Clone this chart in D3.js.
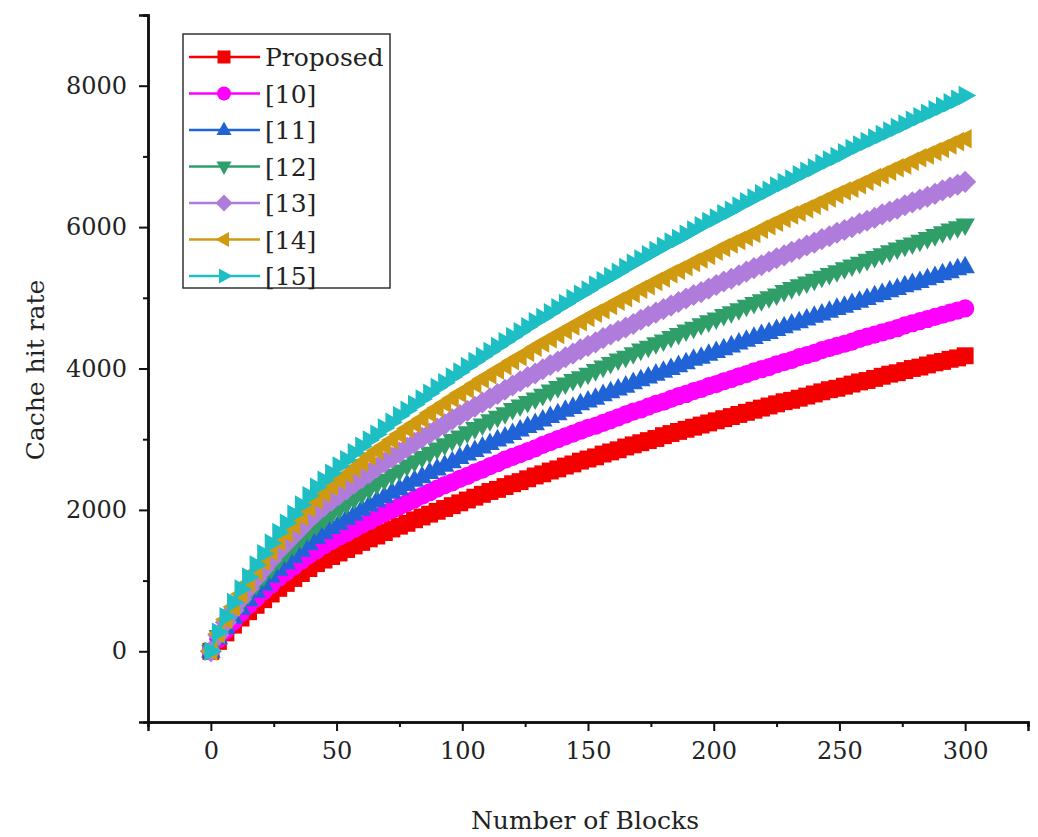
<!DOCTYPE html>
<html>
<head>
<meta charset="utf-8">
<script src="https://cdn.jsdelivr.net/npm/d3@7"></script>
<style>
  body { margin: 0; background: #fff; }
  text { font-family: "DejaVu Serif", serif; fill: #222; }
</style>
</head>
<body>
<script>
// x values (number of blocks), one marker every 3 blocks
var blocks = [0,3,6,9,12,15,18,21,24,27,30,33,36,39,42,45,48,51,54,57,60,63,66,69,72,75,78,81,84,87,90,93,96,99,
  102,105,108,111,114,117,120,123,126,129,132,135,138,141,144,147,150,153,156,159,162,165,168,171,174,177,180,
  183,186,189,192,195,198,201,204,207,210,213,216,219,222,225,228,231,234,237,240,243,246,249,252,255,258,261,
  264,267,270,273,276,279,282,285,288,291,294,297,300];

var proposed = [0,140,260,370,470,560,650,730,810,890,
  960,1030,1100,1170,1240,1290,1340,1390,1440,1490,
  1540,1590,1630,1680,1730,1770,1810,1860,1900,1940,
  1980,2020,2060,2100,2140,2180,2220,2260,2290,2330,
  2370,2400,2440,2480,2510,2550,2580,2620,2650,2690,
  2720,2750,2790,2820,2850,2890,2920,2950,2980,3010,
  3050,3080,3110,3140,3170,3200,3230,3260,3290,3320,
  3350,3380,3410,3440,3470,3500,3530,3550,3580,3610,
  3640,3670,3700,3720,3750,3780,3810,3830,3860,3890,
  3920,3940,3970,4000,4020,4050,4080,4100,4130,4150,4180];

var ref10 = [0,170,300,420,540,650,750,850,940,1040,
  1120,1200,1280,1360,1430,1500,1560,1620,1670,1730,
  1790,1840,1900,1950,2000,2050,2100,2150,2200,2250,
  2300,2350,2390,2440,2480,2530,2570,2620,2660,2710,
  2750,2790,2830,2870,2920,2960,3000,3040,3080,3120,
  3160,3190,3230,3270,3310,3350,3390,3420,3460,3500,
  3530,3570,3610,3640,3680,3710,3750,3780,3820,3850,
  3890,3920,3960,3990,4020,4060,4090,4120,4160,4190,
  4220,4260,4290,4320,4350,4380,4420,4450,4480,4510,
  4540,4570,4610,4640,4670,4700,4730,4760,4790,4820,4850];

var ref11 = [0,190,340,480,610,730,850,950,1060,1160,
  1250,1340,1430,1520,1610,1680,1750,1810,1880,1940,
  2010,2070,2130,2190,2250,2300,2360,2420,2470,2530,
  2580,2630,2680,2740,2790,2840,2890,2940,2990,3030,
  3080,3130,3180,3220,3270,3320,3360,3410,3450,3500,
  3540,3580,3630,3670,3710,3750,3800,3840,3880,3920,
  3960,4000,4040,4080,4130,4160,4200,4240,4280,4320,
  4360,4400,4440,4480,4510,4550,4590,4630,4660,4700,
  4740,4770,4810,4850,4880,4920,4950,4990,5030,5060,
  5100,5130,5170,5200,5230,5270,5300,5340,5370,5410,5440];

var ref12 = [0,210,370,530,670,810,940,1060,1170,1290,
  1390,1490,1590,1690,1780,1860,1940,2010,2080,2150,
  2220,2290,2360,2420,2490,2550,2620,2680,2740,2800,
  2860,2920,2980,3030,3090,3150,3200,3260,3310,3360,
  3420,3470,3520,3570,3620,3680,3730,3780,3830,3870,
  3920,3970,4020,4070,4120,4160,4210,4260,4300,4350,
  4390,4440,4480,4530,4570,4620,4660,4700,4750,4790,
  4830,4880,4920,4960,5000,5040,5090,5130,5170,5210,
  5250,5290,5330,5370,5410,5450,5490,5530,5570,5610,
  5650,5690,5730,5760,5800,5840,5880,5920,5960,5990,6030];

var ref13 = [0,230,410,580,740,890,1030,1160,1290,1420,
  1530,1640,1750,1860,1960,2050,2130,2210,2290,2370,
  2450,2520,2600,2670,2740,2810,2880,2950,3020,3080,
  3150,3210,3280,3340,3400,3460,3520,3580,3640,3700,
  3760,3820,3880,3930,3990,4050,4100,4160,4210,4270,
  4320,4370,4430,4480,4530,4580,4630,4690,4740,4790,
  4840,4890,4940,4990,5040,5080,5130,5180,5230,5270,
  5320,5370,5420,5460,5510,5560,5600,5650,5690,5740,
  5780,5830,5870,5920,5960,6000,6050,6090,6130,6180,
  6220,6260,6310,6350,6390,6430,6470,6520,6560,6600,6640];

var ref14 = [0,250,450,630,810,970,1130,1270,1410,1550,
  1670,1790,1910,2030,2140,2240,2330,2420,2500,2590,
  2670,2760,2840,2910,2990,3070,3150,3220,3290,3370,
  3440,3510,3580,3650,3710,3780,3850,3910,3980,4040,
  4110,4170,4230,4300,4360,4420,4480,4540,4600,4660,
  4720,4780,4830,4890,4950,5000,5060,5120,5170,5230,
  5280,5340,5390,5440,5500,5550,5600,5660,5710,5760,
  5810,5860,5910,5970,6020,6070,6120,6170,6210,6260,
  6310,6360,6410,6460,6510,6550,6600,6650,6700,6740,
  6790,6840,6880,6930,6980,7020,7070,7110,7160,7210,7250];

var ref15 = [0,270,490,690,880,1050,1220,1380,1530,1680,
  1810,1940,2070,2200,2320,2420,2520,2620,2710,2810,
  2900,2990,3070,3160,3240,3330,3410,3490,3570,3650,
  3730,3800,3880,3950,4030,4100,4170,4240,4310,4380,
  4450,4520,4590,4660,4720,4790,4860,4920,4990,5050,
  5110,5180,5240,5300,5360,5430,5490,5550,5610,5670,
  5730,5790,5840,5900,5960,6020,6080,6130,6190,6240,
  6300,6360,6410,6470,6520,6580,6630,6680,6740,6790,
  6840,6900,6950,7000,7050,7110,7160,7210,7260,7310,
  7360,7410,7460,7510,7560,7610,7660,7710,7760,7810,7860];

var names = ["Proposed", "[10]", "[11]", "[12]", "[13]", "[14]", "[15]"];
var colors = ["#f40000", "#ff00ff", "#1f63d6", "#2f9e68", "#b07cdc", "#d09a10", "#1dbfc4"];
var xTicks = [0, 50, 100, 150, 200, 250, 300];
var yTicks = [0, 2000, 4000, 6000, 8000];
var xMinorTicks = [25, 75, 125, 175, 225, 275, 325];
var yMinorTicks = [1000, 3000, 5000, 7000, 9000];

(function() {
  // marker shapes (Origin style): square, circle, up, down, diamond, left, right
  var shapes = [
    "M-6.5,-6.5H6.5V6.5H-6.5Z",
    "M7,0A7,7 0 1,1 -7,0A7,7 0 1,1 7,0Z",
    "M0,-8.5L7.5,5L-7.5,5Z",
    "M0,8.5L7.5,-5L-7.5,-5Z",
    "M0,-8.5L8.5,0L0,8.5L-8.5,0Z",
    "M-8.5,0L5,-7.5L5,7.5Z",
    "M8.5,0L-5,-7.5L-5,7.5Z"
  ];
  var plotScale = 1.3; // symbols in the plot are drawn bigger than in the legend

  var series = [proposed, ref10, ref11, ref12, ref13, ref14, ref15];

  var w = 1038, h = 837;
  var mLeft = 148, mRight = 1028, mTop = 15, mBottom = 722;

  var svg = d3.select("body").append("svg")
    .attr("width", w)
    .attr("height", h);

  var x = d3.scaleLinear().domain([-25, 325]).range([mLeft, mRight]);
  var y = d3.scaleLinear().domain([-1000, 9000]).range([mBottom, mTop]);

  // curves, red first so cyan ends up on top
  var line = d3.line()
    .x(function(d) { return x(d[0]); })
    .y(function(d) { return y(d[1]); });

  series.forEach(function(vals, i) {
    var pts = blocks.map(function(b, j) { return [b, vals[j]]; });
    var g = svg.append("g");
    g.append("path")
      .datum(pts)
      .attr("d", line)
      .attr("fill", "none")
      .attr("stroke", colors[i])
      .attr("stroke-width", 2.5);
    g.selectAll("path.m")
      .data(pts)
      .enter().append("path")
      .attr("class", "m")
      .attr("d", shapes[i])
      .attr("transform", function(d) {
        return "translate(" + x(d[0]) + "," + y(d[1]) + ") scale(" + plotScale + ")";
      })
      .attr("fill", colors[i]);
  });

  // axes
  var xAxis = d3.axisBottom(x).tickValues(xTicks).tickSize(9).tickPadding(11).tickFormat(d3.format("d"));
  var yAxis = d3.axisLeft(y).tickValues(yTicks).tickSize(9).tickPadding(12).tickFormat(d3.format("d"));
  var xMinor = d3.axisBottom(x).tickValues(xMinorTicks).tickSize(5).tickFormat("");
  var yMinor = d3.axisLeft(y).tickValues(yMinorTicks).tickSize(5).tickFormat("");

  [xAxis, xMinor].forEach(function(ax) {
    svg.append("g").attr("transform", "translate(0," + mBottom + ")").call(ax);
  });
  [yAxis, yMinor].forEach(function(ax) {
    svg.append("g").attr("transform", "translate(" + mLeft + ",0)").call(ax);
  });

  svg.selectAll(".domain").attr("stroke", "#111").attr("stroke-width", 2.5);
  svg.selectAll(".tick line").attr("stroke", "#111").attr("stroke-width", 2);
  svg.selectAll(".tick text")
    .attr("font-family", "DejaVu Serif")
    .attr("font-size", "24px")
    .attr("fill", "#222");

  // axis titles
  svg.append("text")
    .attr("x", 585)
    .attr("y", 829)
    .attr("text-anchor", "middle")
    .attr("font-size", "25px")
    .text("Number of Blocks");

  svg.append("text")
    .attr("transform", "translate(44,370) rotate(-90)")
    .attr("text-anchor", "middle")
    .attr("font-family", "DejaVu Serif Condensed")
    .attr("font-size", "25px")
    .text("Cache hit rate");

  // legend
  var lg = svg.append("g");
  lg.append("rect")
    .attr("x", 183).attr("y", 34)
    .attr("width", 207).attr("height", 254)
    .attr("fill", "#fff")
    .attr("stroke", "#333")
    .attr("stroke-width", 1.5);

  names.forEach(function(n, i) {
    var cy = 57 + i * 36.5;
    lg.append("line")
      .attr("x1", 189).attr("x2", 260)
      .attr("y1", cy).attr("y2", cy)
      .attr("stroke", colors[i])
      .attr("stroke-width", 2.5);
    lg.append("path")
      .attr("d", shapes[i])
      .attr("transform", "translate(224," + cy + ")")
      .attr("fill", colors[i]);
    lg.append("text")
      .attr("x", 265)
      .attr("y", cy + 9)
      .attr("font-size", "25px")
      .text(n);
  });
})();
</script>
</body>
</html>
